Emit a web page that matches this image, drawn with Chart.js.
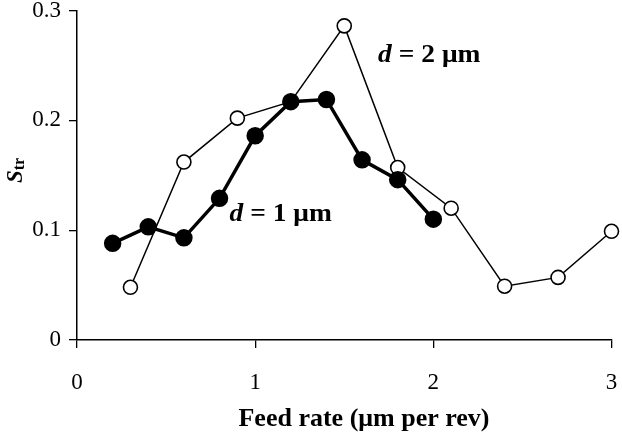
<!DOCTYPE html>
<html>
<head>
<meta charset="utf-8">
<script src="https://cdn.jsdelivr.net/npm/chart.js@4"></script>
<style>
  html, body { margin: 0; background: #fff; }
  #wrap { width: 622px; height: 433px; }
</style>
</head>
<body>
<div id="wrap"><canvas id="c"></canvas></div>
<script>
// feed rate (um per rev) and S_tr
const feedRate1 = [0.2, 0.4, 0.6, 0.8, 1.0, 1.2, 1.4, 1.6, 1.8, 2.0]
const str1 = [0.088, 0.103, 0.093, 0.129, 0.186, 0.217, 0.219, 0.164, 0.146, 0.110]
const feedRate2 = [0.3, 0.6, 0.9, 1.2, 1.5, 1.8, 2.1, 2.4, 2.7, 3.0]
const str2 = [0.048, 0.162, 0.202, 0.217, 0.286, 0.157, 0.120, 0.049, 0.057, 0.099]
const xTicks = [0, 1, 2, 3]
const yTicks = [0, 0.1, 0.2, 0.3]
const labels = [
    { x: 1.69, y: 0.259, text: " = 2 \u03bcm" },
    { x: 0.856, y: 0.114, text: " = 1 \u03bcm" },
]
const xTitle = "Feed rate (\u03bcm per rev)"

const SERIF = "'Liberation Serif', 'Times New Roman', serif"

function toPoints(xs, ys) {
    return xs.map((x, i) => ({ x: x, y: ys[i] }))
}

// text drawn on top: curve labels, x title and the y-axis symbol with subscript
const textPlugin = {
    id: "textPlugin",
    afterDatasetsDraw(chart) {
        const ctx = chart.ctx
        const xs = chart.scales.x, ys = chart.scales.y
        ctx.fillStyle = "#000"
        labels.forEach((l) => {
            ctx.save()
            ctx.textBaseline = "middle"
            ctx.translate(xs.getPixelForValue(l.x), ys.getPixelForValue(l.y))
            ctx.scale(1.1, 1)
            ctx.font = "italic bold 25px " + SERIF
            ctx.fillText("d", 0, 0)
            const dw = ctx.measureText("d").width
            ctx.font = "bold 25px " + SERIF
            ctx.fillText(l.text, dw, 0)
            ctx.restore()
        })
        // x axis title, sits a little right of the plot centre as in the figure
        ctx.save()
        ctx.textAlign = "center"
        ctx.textBaseline = "alphabetic"
        ctx.font = "bold 26px " + SERIF
        ctx.fillText(xTitle, 364, 426)
        ctx.restore()
        // y axis title S_tr
        ctx.save()
        ctx.translate(22, 183)
        ctx.rotate(-Math.PI / 2)
        ctx.textBaseline = "alphabetic"
        ctx.textAlign = "left"
        ctx.font = "italic bold 23px " + SERIF
        const w = ctx.measureText("S").width
        ctx.fillText("S", 0, 0)
        ctx.font = "bold 16px " + SERIF
        ctx.fillText("tr", w, 2)
        ctx.restore()
    }
}

new Chart(document.getElementById("c"), {
    type: "scatter",
    data: {
        datasets: [
            {
                label: "d = 2 um",
                data: toPoints(feedRate2, str2),
                showLine: true,
                borderColor: "#000",
                borderWidth: 1.5,
                backgroundColor: "#fff",
                pointBackgroundColor: "#fff",
                pointBorderColor: "#000",
                pointBorderWidth: 1.6,
                pointRadius: 7,
                clip: false,
                order: 2,
            },
            {
                label: "d = 1 um",
                data: toPoints(feedRate1, str1),
                showLine: true,
                borderColor: "#000",
                borderWidth: 3.5,
                backgroundColor: "#000",
                pointBackgroundColor: "#000",
                pointBorderColor: "#000",
                pointRadius: 7,
                clip: false,
                order: 1,
            },
        ]
    },
    options: {
        responsive: true,
        maintainAspectRatio: false,
        animation: false,
        layout: { padding: { top: 6, right: 9 } },
        plugins: { legend: { display: false }, tooltip: { enabled: false } },
        scales: {
            x: {
                type: "linear",
                min: 0, max: 3,
                afterBuildTicks: (s) => { s.ticks = xTicks.map(v => ({ value: v })) },
                afterFit: (s) => { s.height = 93; s.paddingLeft = 0; s.paddingRight = 0 },
                grid: { drawOnChartArea: false, color: "#000", tickLength: 8, lineWidth: 1.3 },
                border: { color: "#000", width: 1.5 },
                ticks: { color: "#000", padding: 21, font: { family: SERIF, size: 23 } },
            },
            y: {
                min: 0, max: 0.3,
                afterBuildTicks: (s) => { s.ticks = yTicks.map(v => ({ value: v })) },
                afterFit: (s) => { s.width = 77; s.paddingTop = 0; s.paddingBottom = 0 },
                grid: { drawOnChartArea: false, color: "#000", tickLength: 8, lineWidth: 1.3 },
                border: { color: "#000", width: 1.5 },
                ticks: { color: "#000", padding: 8, font: { family: SERIF, size: 23 } },
            },
        }
    },
    plugins: [textPlugin],
})
</script>
</body>
</html>
